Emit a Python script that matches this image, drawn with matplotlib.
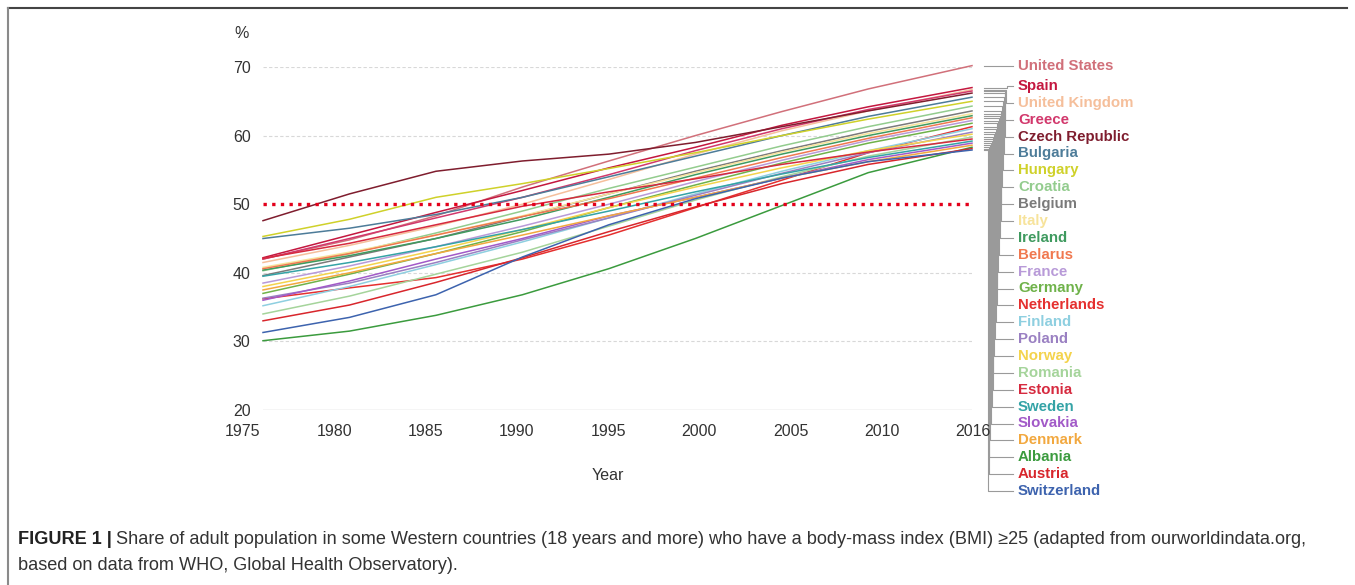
import matplotlib
matplotlib.use('Agg')
import matplotlib.pyplot as plt
import numpy as np
from matplotlib.lines import Line2D
from matplotlib.transforms import blended_transform_factory

plt.rcParams['font.family'] = ['Liberation Sans', 'DejaVu Sans']

# dane (udział osób z BMI >= 25, %)
years = [1975, 1980, 1985, 1990, 1995, 2000, 2005, 2010, 2016]
year_labels = ['1975', '1980', '1985', '1990', '1995', '2000', '2005', '2010', '2016']

united_states = [42.0, 44.8, 48.3, 52.5, 56.3, 60.0, 63.5, 66.8, 70.2]
spain         = [42.2, 45.5, 48.8, 52.0, 55.3, 58.3, 61.5, 64.2, 67.0]
united_kingdom = [41.5, 44.0, 46.8, 50.0, 53.6, 57.3, 60.7, 63.6, 66.7]
greece        = [42.0, 45.0, 48.0, 51.0, 54.3, 57.8, 61.0, 63.8, 66.5]
czech         = [47.6, 51.5, 54.8, 56.3, 57.3, 59.0, 61.3, 63.6, 66.2]
bulgaria      = [45.0, 46.5, 48.5, 51.0, 54.0, 57.0, 60.0, 62.8, 65.6]
hungary       = [45.3, 47.8, 51.0, 53.0, 55.2, 57.5, 60.0, 62.4, 65.0]
croatia       = [40.3, 42.8, 45.8, 49.0, 52.3, 55.4, 58.5, 61.3, 64.3]
belgium       = [39.6, 42.3, 45.0, 48.2, 51.5, 54.8, 57.8, 60.6, 63.6]
italy         = [40.8, 43.0, 45.5, 48.3, 51.5, 54.6, 57.6, 60.3, 63.2]
ireland       = [40.4, 42.5, 45.0, 47.8, 51.0, 54.3, 57.3, 60.0, 62.9]
belarus       = [40.6, 42.8, 45.5, 48.2, 50.8, 53.8, 56.8, 59.6, 62.6]
france        = [38.5, 41.0, 43.8, 46.8, 50.0, 53.3, 56.4, 59.3, 62.2]
germany       = [37.0, 39.8, 42.8, 46.0, 49.5, 52.8, 56.0, 58.9, 61.8]
netherlands   = [36.2, 37.8, 39.3, 42.0, 45.5, 49.5, 53.5, 57.5, 61.3]
finland       = [35.2, 38.0, 41.2, 44.5, 48.0, 51.5, 54.8, 57.8, 61.0]
poland        = [36.3, 38.5, 41.5, 44.8, 48.0, 51.3, 54.5, 57.5, 60.5]
norway        = [38.0, 40.5, 43.3, 46.3, 49.5, 52.5, 55.3, 57.8, 60.2]
romania       = [34.0, 36.6, 39.8, 43.0, 46.8, 50.6, 54.0, 57.0, 59.8]
estonia       = [42.1, 44.3, 47.0, 49.7, 51.8, 53.7, 55.8, 57.6, 59.5]
sweden        = [39.5, 41.5, 43.8, 46.3, 49.0, 51.8, 54.4, 56.8, 59.2]
slovakia      = [36.0, 38.8, 42.0, 45.0, 48.3, 51.0, 53.8, 56.5, 58.9]
denmark       = [37.5, 40.0, 42.8, 45.5, 48.3, 51.0, 53.8, 56.2, 58.6]
albania       = [30.1, 31.5, 33.8, 36.8, 40.6, 45.0, 49.8, 54.6, 58.3]
austria       = [33.0, 35.3, 38.6, 42.2, 46.0, 49.6, 53.0, 55.8, 58.1]
switzerland   = [31.3, 33.5, 36.8, 42.3, 47.0, 50.8, 53.8, 56.2, 57.9]

countries = ['United States', 'Spain', 'United Kingdom', 'Greece', 'Czech Republic',
             'Bulgaria', 'Hungary', 'Croatia', 'Belgium', 'Italy', 'Ireland', 'Belarus',
             'France', 'Germany', 'Netherlands', 'Finland', 'Poland', 'Norway', 'Romania',
             'Estonia', 'Sweden', 'Slovakia', 'Denmark', 'Albania', 'Austria', 'Switzerland']
series = [united_states, spain, united_kingdom, greece, czech, bulgaria, hungary, croatia,
          belgium, italy, ireland, belarus, france, germany, netherlands, finland, poland,
          norway, romania, estonia, sweden, slovakia, denmark, albania, austria, switzerland]
colors = ['#d1707a', '#c4173f', '#f5bf9b', '#d2386c', '#7f1d2e', '#4d7c99', '#cfd12a',
          '#93cc8e', '#7a7a7a', '#f7e39b', '#3f9a5f', '#f0784f', '#b89ad8', '#6fb24a',
          '#e5302f', '#8ecfe0', '#9a80c2', '#f4d34c', '#a5d49b', '#d62a3f', '#34a3a6',
          '#a25ac8', '#f2a83f', '#3b9b3e', '#d8262c', '#3d63ae']

W, H = 1355, 585
fig = plt.figure(figsize=(W / 100, H / 100), dpi=100)
x0, x1, y0, y1 = 263, 972, 67, 410
ax = fig.add_axes([x0 / W, 1 - y1 / H, (x1 - x0) / W, (y1 - y0) / H])
ax.set_xlim(1975, 2016)
ax.set_ylim(20, 70)
for s in ax.spines.values():
    s.set_visible(False)
ax.set_xticks([])
ax.set_yticks([20, 30, 40, 50, 60, 70])
ax.tick_params(length=0, labelsize=11.5, colors='#333333')
ax.tick_params(axis='y', pad=9)

def fx(px):
    return (px - x0) / (x1 - x0)

def fy(py):
    return 70 - (py - y0) * 50.0 / (y1 - y0)

# podpisy lat – w oryginale rozłożone równomiernie
for px, lab in zip(np.linspace(243, 973, len(year_labels)), year_labels):
    ax.text(fx(px), -22 / (y1 - y0), lab, transform=ax.transAxes, fontsize=11.5,
            color='#333333', ha='center', va='center')

for v in [30, 40, 60, 70]:
    ax.axhline(v, color='#d8d8d8', lw=0.8, ls=(0, (3, 2)), zorder=0)
ax.axhline(20, color='#cfcfcf', lw=1.0, zorder=0)

for vals, c in zip(series, colors):
    ax.plot(years, vals, color=c, lw=1.1, clip_on=False, zorder=2)

# granica 50%
ax.axhline(50, color='#e3001b', lw=2.4, ls=(0, (1, 1.6)), zorder=4)

fig.text(608 / W, 1 - 475 / H, 'Year', fontsize=11.5, color='#333333', ha='center', va='center')
fig.text(242 / W, 1 - 33 / H, '%', fontsize=11.5, color='#333333', ha='center', va='center')

# etykiety krajów z liniami łączącymi
tr = blended_transform_factory(ax.transAxes, ax.transData)
for i, (name, vals, c) in enumerate(zip(countries, series, colors)):
    if i == 0:
        ly = fy(66)
        elbow = 1000
    else:
        ly = fy(86 + (i - 1) * 16.875)
        elbow = 1007 - (i - 1) * 0.8
    end = vals[-1]
    ax.plot([fx(984), fx(elbow), fx(elbow), fx(1013)], [end, end, ly, ly],
            transform=tr, color='#9a9a9a', lw=0.8, clip_on=False)
    ax.text(fx(1018), ly, name, transform=tr, color=c, fontsize=10.8,
            fontweight='bold', va='center', ha='left')

# ramka
fig.add_artist(Line2D([8 / W, 1347 / W], [1 - 8 / H, 1 - 8 / H], color='#444444', lw=1.5))
fig.add_artist(Line2D([8 / W, 8 / W], [1 - 8 / H, 0], color='#8a8a8a', lw=1.5))

# podpis
cap_y1 = 1 - 540 / H
cap_y2 = 1 - 566 / H
t = fig.text(18 / W, cap_y1, 'FIGURE 1 |', fontsize=13.1, fontweight='bold',
             color='#222222', va='center', ha='left')
fig.canvas.draw()
bb = t.get_window_extent(fig.canvas.get_renderer())
fig.text((bb.x1 + 4) / W, cap_y1,
         'Share of adult population in some Western countries (18 years and more) who have a '
         'body-mass index (BMI) \u226525 (adapted from ourworldindata.org,',
         fontsize=13.1, color='#333333', va='center', ha='left')
fig.text(18 / W, cap_y2, 'based on data from WHO, Global Health Observatory).',
         fontsize=13.1, color='#333333', va='center', ha='left')

fig.savefig('out.png', dpi=100)
